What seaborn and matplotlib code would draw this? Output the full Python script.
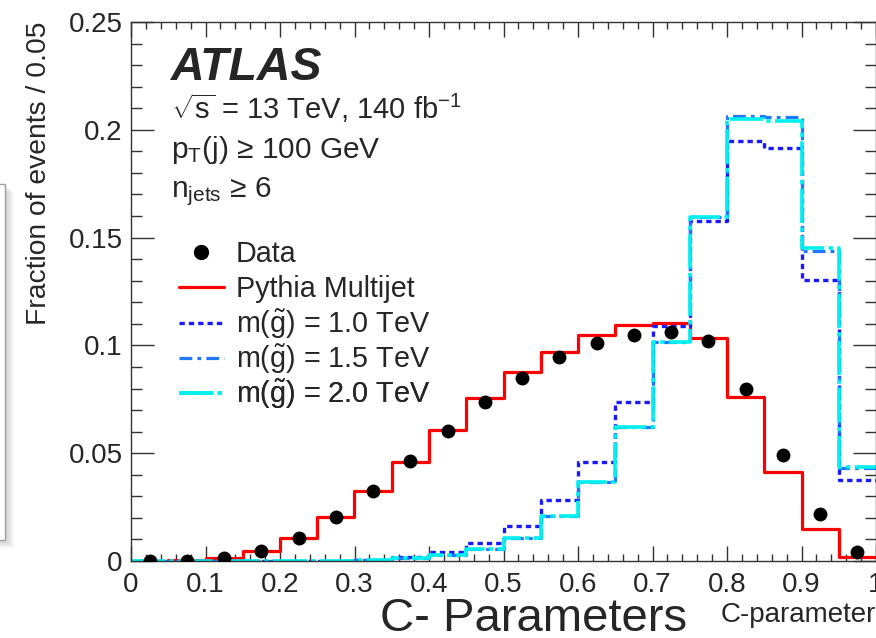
import numpy as np
import pandas as pd
import matplotlib
matplotlib.use("Agg")
import matplotlib.pyplot as plt
import seaborn as sns
from matplotlib.ticker import MultipleLocator, FuncFormatter
from matplotlib.patches import Rectangle
from matplotlib.lines import Line2D

# ---------------- data ----------------
bin_edges = [0.0, 0.05, 0.1, 0.15, 0.2, 0.25, 0.3, 0.35, 0.4, 0.45, 0.5,
             0.55, 0.6, 0.65, 0.7, 0.75, 0.8, 0.85, 0.9, 0.95, 1.0]
bin_centers = [0.025, 0.075, 0.125, 0.175, 0.225, 0.275, 0.325, 0.375, 0.425, 0.475,
               0.525, 0.575, 0.625, 0.675, 0.725, 0.775, 0.825, 0.875, 0.925, 0.975]
data_frac = [0.0001, 0.0001, 0.0016, 0.0048, 0.0108, 0.0202, 0.0326, 0.0462, 0.0604, 0.0736,
             0.0849, 0.0948, 0.1010, 0.1048, 0.1061, 0.1022, 0.0799, 0.0490, 0.0217, 0.0040]
pythia_frac = [0.0001, 0.0003, 0.0012, 0.0045, 0.0108, 0.0203, 0.0325, 0.0460, 0.0608, 0.0757,
               0.0875, 0.0971, 0.1048, 0.1094, 0.1102, 0.1033, 0.0762, 0.0414, 0.0148, 0.0020]
gluino_1p0 = [0.0, 0.0, 0.0, 0.0, 0.0, 0.0, 0.0005, 0.0020, 0.0040, 0.0082,
              0.0161, 0.0283, 0.0457, 0.0739, 0.1090, 0.1577, 0.1948, 0.1915, 0.1305, 0.0376]
gluino_1p5 = [0.0, 0.0, 0.0, 0.0, 0.0, 0.0, 0.0003, 0.0012, 0.0028, 0.0056,
              0.0108, 0.0207, 0.0365, 0.0620, 0.1017, 0.1595, 0.2064, 0.2058, 0.1440, 0.0430]
gluino_2p0 = [0.0, 0.0, 0.0, 0.0, 0.0, 0.0, 0.0003, 0.0012, 0.0028, 0.0056,
              0.0108, 0.0207, 0.0365, 0.0620, 0.1017, 0.1595, 0.2049, 0.2043, 0.1450, 0.0435]

legend_labels = ["Data", "Pythia Multijet",
                 r"m($\tilde{\mathrm{g}}$) = 1.0 TeV",
                 r"m($\tilde{\mathrm{g}}$) = 1.5 TeV",
                 r"m($\tilde{\mathrm{g}}$) = 2.0 TeV"]

# ---------------- style ----------------
sns.set_style("ticks")
plt.rcParams["font.family"] = ["Liberation Sans", "DejaVu Sans"]
plt.rcParams["mathtext.fontset"] = "custom"
plt.rcParams["mathtext.rm"] = "Liberation Sans"
plt.rcParams["mathtext.it"] = "Liberation Sans:italic"
plt.rcParams["mathtext.bf"] = "Liberation Sans:bold"

W, H = 876, 638
fig = plt.figure(figsize=(W / 100, H / 100), dpi=100)
fig.patch.set_facecolor("white")
ax = fig.add_axes([131 / W, 1 - 561 / H, (876 - 131) / W, (561 - 22) / H])
ax.set_facecolor("white")

df = pd.DataFrame({"c": bin_centers, "data": data_frac, "pythia": pythia_frac,
                   "g10": gluino_1p0, "g15": gluino_1p5, "g20": gluino_2p0})

styles = {
    "pythia": dict(color="#ff0000", ls="-", lw=2.3),
    "g10": dict(color="#1a1aff", ls=(0, (1.6, 1.2)), lw=2.4),
    "g15": dict(color="#1f78ff", ls=(0, (4.0, 1.6, 1.2, 1.6)), lw=2.3),
    "g20": dict(color="#00f0f0", ls=(0, (9.5, 1.2, 1.2, 1.2)), lw=2.6),
}
for col, st in styles.items():
    sns.histplot(data=df, x="c", weights=col, bins=bin_edges, element="step",
                 fill=False, color=st["color"], linestyle=st["ls"],
                 linewidth=st["lw"], ax=ax)

sns.scatterplot(data=df, x="c", y="data", color="black", s=100, linewidth=0,
                zorder=10, ax=ax, legend=False)

ax.set_xlim(0, 1)
ax.set_ylim(0, 0.25)
ax.set_xlabel("")
ax.set_ylabel("Fraction of events / 0.05", fontsize=20.3, loc="top", labelpad=12)

fmt = FuncFormatter(lambda v, p: "%g" % round(v, 4))
ax.xaxis.set_major_locator(MultipleLocator(0.1))
ax.xaxis.set_minor_locator(MultipleLocator(0.02))
ax.yaxis.set_major_locator(MultipleLocator(0.05))
ax.yaxis.set_minor_locator(MultipleLocator(0.01))
ax.xaxis.set_major_formatter(fmt)
ax.yaxis.set_major_formatter(fmt)
ax.tick_params(axis="both", which="both", direction="in", top=True, right=True,
               color="#333333", width=1.0)
ax.tick_params(axis="x", which="major", length=10.5, labelsize=20, pad=8)
ax.tick_params(axis="x", which="minor", length=5.2)
ax.tick_params(axis="y", which="major", length=16.5, labelsize=20, pad=6)
ax.tick_params(axis="y", which="minor", length=8.2)
for s in ax.spines.values():
    s.set_color("#333333")
    s.set_linewidth(1.0)
    s.set_visible(True)

# ---------------- annotations ----------------
ax.text(0.0537, 0.892, "ATLAS", transform=ax.transAxes, fontsize=33.5,
        fontweight="bold", fontstyle="italic", va="baseline", ha="left")
ax.text(0.0537, 0.820, r"$\sqrt{\mathrm{s}}$ = 13 TeV, 140 fb$^{-1}$",
        transform=ax.transAxes, fontsize=21, va="baseline", ha="left")
ax.text(0.0537, 0.7477, r"p$_{\mathrm{T}}$(j) ≥ 100 GeV",
        transform=ax.transAxes, fontsize=21.5, va="baseline", ha="left")
ax.text(0.0537, 0.6753, r"n$_{\mathrm{jets}}$ ≥ 6",
        transform=ax.transAxes, fontsize=21.5, va="baseline", ha="left")

handles = [
    Line2D([], [], marker="o", ls="none", color="black", markersize=10),
    Line2D([], [], color=styles["pythia"]["color"], lw=styles["pythia"]["lw"], ls=styles["pythia"]["ls"]),
    Line2D([], [], color=styles["g10"]["color"], lw=styles["g10"]["lw"], ls=styles["g10"]["ls"]),
    Line2D([], [], color=styles["g15"]["color"], lw=styles["g15"]["lw"], ls=styles["g15"]["ls"]),
    Line2D([], [], color=styles["g20"]["color"], lw=styles["g20"]["lw"], ls=styles["g20"]["ls"]),
]
row_y_px = [254, 289, 324, 359, 394]
for i, (h, lab) in enumerate(zip(handles, legend_labels)):
    leg = ax.legend([h], [lab], loc="center left",
                    bbox_to_anchor=((179 - 131) / 745, (561 - row_y_px[i]) / 539),
                    frameon=False, fontsize=20.7, handlelength=1.55, handletextpad=0.42,
                    borderpad=0, borderaxespad=0)
    ax.add_artist(leg)

fig.text(380 / W, 1 - 631 / H, "C- Parameters", fontsize=34, ha="left", va="baseline")
fig.text(1.0, 1 - 622 / H, "C-parameter", fontsize=20, ha="right", va="baseline")

# stray framed box on the left edge
for k in range(1, 10):
    fig.patches.append(Rectangle((-2 / W, 1 - (540 + k * 0.9) / H), (7 + k) / W,
                                 (356) / H, transform=fig.transFigure,
                                 facecolor="#808080", alpha=0.045, edgecolor="none",
                                 zorder=0))
fig.patches.append(Rectangle((-2 / W, 1 - 540 / H), 7 / W, 356 / H,
                             transform=fig.transFigure, facecolor="white",
                             edgecolor="#a0a0a0", linewidth=1.0, zorder=1))

fig.savefig("out.png", dpi=100)
